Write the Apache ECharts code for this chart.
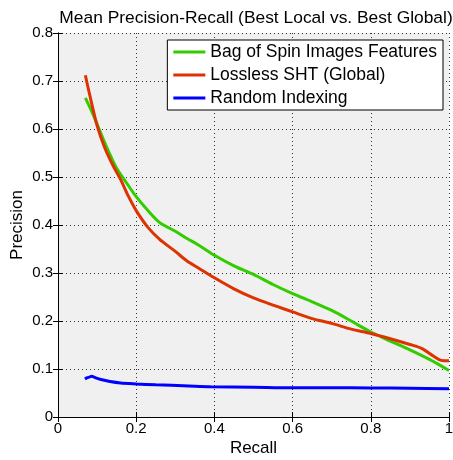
<!DOCTYPE html>
<html><head><meta charset="utf-8">
<script src="https://cdn.jsdelivr.net/npm/echarts@6/dist/echarts.min.js"></script>
<style>html,body{margin:0;padding:0;background:#fff}#c{width:453px;height:460px}</style>
</head><body><div id="c"></div>
<script>
const seriesNames = ['Bag of Spin Images Features', 'Lossless SHT (Global)', 'Random Indexing'];
const greenRecall = [0.07,0.09,0.11,0.13,0.15,0.175,0.2,0.23,0.26,0.3,0.33,0.36,0.4,0.45,0.5,0.55,0.6,0.65,0.7,0.75,0.8,0.85,0.9,0.95,1.0];
const greenPrec   = [0.665,0.63,0.59,0.552,0.518,0.488,0.459,0.43,0.405,0.387,0.372,0.358,0.337,0.315,0.297,0.276,0.257,0.24,0.222,0.2,0.177,0.158,0.14,0.12,0.097];
const redRecall = [0.07,0.08,0.1,0.12,0.14,0.16,0.18,0.2,0.23,0.26,0.3,0.33,0.36,0.4,0.45,0.5,0.55,0.6,0.65,0.7,0.75,0.8,0.85,0.9,0.93,0.96,0.98,1.0];
const redPrec   = [0.712,0.675,0.607,0.56,0.525,0.495,0.46,0.43,0.395,0.37,0.345,0.325,0.31,0.29,0.267,0.248,0.233,0.219,0.205,0.195,0.183,0.174,0.163,0.151,0.143,0.127,0.118,0.117];
const blueRecall = [0.069,0.075,0.08,0.086,0.095,0.11,0.133,0.16,0.2,0.25,0.29,0.35,0.39,0.5,0.6,0.7,0.8,0.9,1.0];
const bluePrec   = [0.079,0.082,0.083,0.085,0.082,0.078,0.074,0.071,0.069,0.067,0.066,0.064,0.063,0.062,0.061,0.061,0.0605,0.06,0.059];
const xTicks = [0,0.2,0.4,0.6,0.8,1];
const yTicks = [0,0.1,0.2,0.3,0.4,0.5,0.6,0.7,0.8];

const zip = (a,b) => a.map((v,i)=>[v,b[i]]);
const colors = ['#33cc00','#dd3300','#0000ff'];
const font = 'Liberation Sans, Arial, sans-serif';
const chart = echarts.init(document.getElementById('c'), null, {renderer:'canvas'});
const baseAxis = {
  type:'value', axisLine:{show:true,lineStyle:{color:'#000',width:1}},
  axisTick:{show:true,inside:true,length:5,lineStyle:{color:'#000'}},
};
chart.setOption({
  animation:false,
  backgroundColor:'#fff',
  title:{text:'Mean Precision-Recall (Best Local vs. Best Global)',left:251,textAlign:'center',top:5,
    textStyle:{fontFamily:font,fontSize:17.4,fontWeight:'normal',color:'#000'}},
  grid:{left:58,right:4,top:33,bottom:43,show:true,backgroundColor:'#f0f0f0',borderWidth:0,outerBoundsMode:'none',containLabel:false},
  legend:{orient:'vertical',right:10,top:40,backgroundColor:'#fff',borderColor:'#000',borderWidth:1,
    padding:[3,6,3,6],itemGap:5,itemWidth:32,itemHeight:3,icon:'rect',
    textStyle:{fontFamily:font,fontSize:17.5,color:'#000',lineHeight:18},
    data:seriesNames},
  xAxis:[
    Object.assign({},baseAxis,{min:0,max:1,interval:0.2,position:'bottom',
      name:'Recall',nameLocation:'middle',nameGap:23,nameMoveOverlap:false,nameTextStyle:{fontFamily:font,fontSize:17,color:'#000'},
      axisLabel:{fontFamily:font,fontSize:15,color:'#000',margin:4,formatter:v=>String(+v.toFixed(1))},
      splitLine:{show:true,lineStyle:{type:[1,3],color:'#333',width:1}}}),
    Object.assign({},baseAxis,{min:0,max:1,interval:0.2,position:'top',axisLabel:{show:false},splitLine:{show:false}})
  ],
  yAxis:[
    Object.assign({},baseAxis,{min:0,max:0.8,interval:0.1,position:'left',
      name:'Precision',nameLocation:'middle',nameGap:32,nameMoveOverlap:false,nameTextStyle:{fontFamily:font,fontSize:17,color:'#000'},
      axisLabel:{fontFamily:font,fontSize:15,color:'#000',margin:5,formatter:v=>String(+v.toFixed(1))},
      splitLine:{show:true,lineStyle:{type:[1,3],color:'#333',width:1}}}),
    Object.assign({},baseAxis,{min:0,max:0.8,interval:0.1,position:'right',axisLabel:{show:false},splitLine:{show:false}})
  ],
  series:[
    {name:seriesNames[0],type:'line',data:zip(greenRecall,greenPrec),showSymbol:false,smooth:0.3,lineStyle:{color:colors[0],width:3},itemStyle:{color:colors[0]}},
    {name:seriesNames[1],type:'line',data:zip(redRecall,redPrec),showSymbol:false,smooth:0.3,lineStyle:{color:colors[1],width:3},itemStyle:{color:colors[1]}},
    {name:seriesNames[2],type:'line',data:zip(blueRecall,bluePrec),showSymbol:false,smooth:0.3,lineStyle:{color:colors[2],width:3},itemStyle:{color:colors[2]}}
  ]
});
</script></body></html>
